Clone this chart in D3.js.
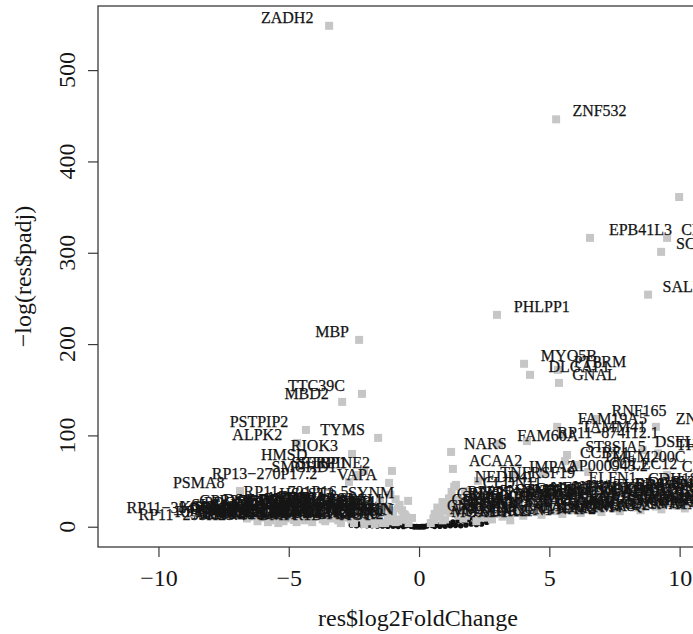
<!DOCTYPE html>
<html>
<head>
<meta charset="utf-8">
<script src="https://cdn.jsdelivr.net/npm/d3@7"></script>
<style>
  body { margin: 0; background: #fff; }
</style>
</head>
<body>
<div id="chart"></div>
<script>
// ---- labelled significant genes (log2 fold change, -log(padj))
const genes = ["ZADH2", "ZNF532", "CNTNAP5", "EPB41L3", "CELF4", "SCN2B", "SALL1", "PHLPP1", "MBP",
  "MYO5B", "PTPRM", "DLGAP1", "GNAL", "TTC39C", "MBD2", "RNF165", "ZNF804A", "FAM19A5", "PSTPIP2",
  "TAMM41", "TYMS", "RP11-874I12.1", "ALPK2", "FAM60A", "DSEL", "NARS", "THSD7B", "RIOK3", "ST8SIA5",
  "CCBE1", "HMSD", "TMEM200C", "ACAA2", "SETBP1", "SERPINE2", "COLEC12", "AP000943.2", "IMPA2", "CHST2",
  "SMCHD1", "TNFRSF19", "RP13-270P17.2", "VAPA", "NEDD4L", "ELFN1", "CDH18", "PSMA8", "CLDN11", "RPP25",
  "RP11-701P16.5", "HS6ST3", "SYNM", "DSG4", "RP11-384F22.1", "RP11-20G6.1", "PCSK1N", "NRXN3", "MOXD1"];
const lfc = [-3.45, 5.26, 9.98, 6.56, 9.52, 9.29, 8.79, 2.99, -2.30,
  4.03, 5.33, 4.26, 5.37, -2.19, -2.95, 6.75, 9.09, 5.30, -4.34,
  5.49, -1.57, 4.14, -4.68, 3.07, 8.58, 1.23, 9.17, -2.57, 5.68,
  5.60, -3.76, 6.10, 1.30, -2.11, -1.04, 6.49, 4.76, 3.68, 9.52,
  -2.42, 2.26, -2.69, -1.15, 1.42, 5.95, 8.21, -6.87, 1.77, 1.34,
  -1.50, -2.61, -0.42, -5.53, -5.99, -4.80, -0.27, 1.04, 0.58];
const nlp = [548.5, 446.1, 361.0, 316.3, 316.3, 301.0, 254.1, 232.0, 204.6,
  178.4, 171.7, 166.3, 157.5, 145.5, 136.7, 118.1, 109.4, 109.4, 106.0,
  100.9, 97.3, 93.8, 91.8, 90.7, 84.1, 81.9, 80.3, 79.7, 78.6,
  71.8, 69.9, 67.8, 63.3, 61.1, 61.1, 59.9, 57.8, 56.7, 56.7,
  56.7, 50.2, 49.1, 48.0, 45.8, 44.7, 43.6, 39.2, 39.2, 29.4,
  29.4, 27.2, 28.3, 20.6, 11.8, 7.4, 9.6, 17.3, 7.4];

// crowded labelled genes near the bottom, left side
const denseLeftGenes = ["KCNJ10", "SLC1A3", "GPR37L1", "AQP4", "SOX9", "GJA1", "NTRK2", "ALDH1L1", "GFAP", "SPARCL1", "CLU",
  "PLPP3", "RFX4", "SLC4A4", "FABP7", "ATP1A2", "MLC1", "PAX6", "NDRG2", "ID4", "CST3", "SPON1", "RP11-81H14.2",
  "EMX2", "LHX2", "ZIC2", "FGFR3", "HES5", "NOTCH1", "SLC39A12", "TTYH1", "METRN", "PTN", "C1orf61",
  "RP11-255H23.4", "ARHGEF26", "PRODH", "GLUL", "BMPR1B", "CPE", "SCRG1", "AGT", "SOX2",
  "OLIG1", "OLIG2", "SOX10", "PDGFRA", "CSPG4", "GPR17", "BCAS1", "MOG", "MAG", "PLP1", "CNP",
  "CLDN14", "ERMN", "ENPP6", "TF", "OPALIN", "KLK6", "CARNS1", "RP11-139K4.2", "ASPA", "TMEM125", "UGT8"];
const denseLeftLfc = [-6.4, -5.9, -5.2, -4.6, -4.0, -3.5, -3.0, -2.4, -1.9, -1.3, -0.8,
  -6.6, -6.0, -5.5, -4.9, -4.3, -3.8, -3.2, -2.7, -2.1, -1.6, -1.1, -0.6,
  -6.2, -5.7, -5.0, -4.5, -3.9, -3.3, -2.8, -2.3, -1.8, -1.2, -0.7,
  -5.4, -4.7, -4.1, -3.6, -3.0, -2.5, -2.0, -1.4, -0.9,
  -6.5, -6.1, -5.6, -5.1, -4.7, -4.2, -3.7, -3.1, -2.6, -2.0, -1.5,
  -1.0, -0.5, -5.8, -5.2, -4.4, -3.7, -3.1, -2.6, -2.1, -1.6, -1.1];
const denseLeftNlp = [13, 15, 19, 21, 22, 23, 22, 23, 21, 22, 20,
  9, 10, 12, 15, 16, 17, 15, 16, 17, 15, 16, 14,
  6, 7, 9, 10, 11, 9, 10, 11, 9, 10, 8,
  4, 5, 5, 6, 4, 5, 6, 4, 5,
  11, 12, 14, 17, 18, 19, 20, 19, 20, 19, 18,
  18, 11, 5, 6, 7, 8, 7, 8, 7, 7, 6];

// crowded labelled genes near the bottom, right side
const denseRightGenes = ["GRIA2", "SYT1", "SNAP25", "STMN2", "GAP43", "NEFL", "NEFM", "INA", "TUBB3", "ELAVL4", "DCX", "SYN1", "RBFOX3",
  "CELF2", "KIF5A", "MAPT", "CHGA", "SCG2", "VGF", "NPTX1", "CALB2", "GABRA1", "GAD1", "GAD2", "SLC32A1", "RELN",
  "CNR1", "SST", "NPY", "VIP", "CCK", "TAC1", "PENK", "CRH", "NRGN", "CAMK2A", "GRIN1", "GRIN2B", "DLG4",
  "SHANK2", "NRXN1", "NLGN1", "CNTNAP2", "CADM2", "LRRTM4", "ATP1A3", "KCNQ2", "CACNA1A", "RP11-12N13.3", "RP5-1052I5.2", "SCN2A", "SCN3B",
  "SV2B", "SLC17A7", "NEUROD6", "SATB2", "TBR1", "BCL11B", "FEZF2", "CUX2", "RORB", "LMO4", "PCP4", "NRN1", "BDNF",
  "ARC", "EGR1", "FOS", "NR4A1", "NPAS4", "HOMER1", "GABRG2", "SYP", "SYNPR", "SNCG", "CHN1", "RP11-5C23.1", "AC011288.2"];
const denseRightLfc = [0.9, 1.6, 2.4, 3.1, 3.9, 4.6, 5.4, 6.1, 6.9, 7.6, 8.4, 9.2, 10.0,
  0.7, 1.4, 2.1, 2.9, 3.6, 4.4, 5.1, 5.9, 6.6, 7.4, 8.1, 8.9, 9.7,
  0.6, 1.2, 1.9, 2.7, 3.4, 4.2, 4.9, 5.7, 6.4, 7.2, 7.9, 8.7, 9.5,
  1.0, 1.7, 2.5, 3.2, 4.0, 4.7, 5.5, 6.2, 7.0, 7.7, 8.5, 9.3, 10.2,
  1.2, 2.0, 2.8, 3.5, 4.3, 5.0, 5.8, 6.5, 7.3, 8.0, 8.8, 9.6, 10.3,
  0.8, 1.5, 2.3, 3.0, 3.8, 4.5, 5.3, 6.0, 6.8, 7.5, 8.3, 9.1, 9.9];
const denseRightNlp = [27, 28, 30, 31, 33, 34, 35, 36, 37, 38, 39, 40, 40,
  21, 22, 23, 24, 26, 27, 28, 29, 30, 31, 32, 33, 34,
  14, 15, 16, 17, 18, 19, 20, 21, 22, 23, 24, 25, 26,
  8, 9, 10, 11, 12, 13, 14, 15, 16, 17, 18, 19, 20,
  24, 26, 27, 29, 30, 31, 33, 34, 34, 36, 37, 37, 38,
  11, 12, 13, 14, 15, 16, 17, 18, 19, 20, 21, 22, 23];

// significant genes without labels (small fold change)
const greyLfc = [-0.4, -0.5, -0.55, -0.65, -0.75, -0.9, -1.1, -0.8, -1.0, -1.3, -1.7, -2.1, -2.5,
  0.45, 0.55, 0.7, 0.85, 1.0, 1.15, 1.25, 1.35, 0.9, 1.5, 1.8, 2.2, 2.8, 3.5];
const greyNlp = [4, 8, 13, 18, 24, 30, 35, 6, 12, 4, 3, 3, 4,
  4, 9, 14, 19, 25, 31, 38, 44, 7, 20, 12, 6, 8, 7];

// non significant genes
const nsLfc = [-2.6, -2.3, -2.1, -2.0, -1.9, -1.7, -1.6, -1.5, -1.3, -1.1, -1.0, -0.9, -0.7, -0.5, -0.4, -0.3, -0.1, 0,
  0.1, 0.3, 0.4, 0.5, 0.7, 0.9, 1.0, 1.1, 1.3, 1.5, 1.6, 1.7, 1.9, 2.0, 2.1, 2.3, 2.6,
  -2.4, -2.2, -1.8, -1.4, -1.2, -0.8, -0.6, -0.2, 0.2, 0.6, 0.8, 1.2, 1.4, 1.8, 2.2, 2.4, -0.05, 0.05, 0.15, -0.15];
const nsNlp = [2, 3, 4, 1, 2, 5, 0.8, 3, 2, 4, 0.5, 1.5, 2.5, 1, 2, 0.6, 0.2, 0,
  0.3, 0.8, 3, 1.5, 2.2, 3, 0.5, 4, 5, 6.5, 1, 7, 8, 3, 9, 10, 5,
  1, 1.5, 1, 0.8, 0.6, 0.4, 0.3, 0.1, 0.1, 0.4, 0.6, 1, 1.5, 2, 2.5, 3, 0, 0.05, 0.1, 0.05];

const xTicks = [-10, -5, 0, 5, 10];
const yTicks = [0, 100, 200, 300, 400, 500];

const width = 693, height = 634;
const box = { left: 98, right: 738, top: 6, bottom: 547 };
const fontFamily = "'Liberation Serif', 'Times New Roman', serif";
const textColor = "#151515";
const axisColor = "#3a3a3a";
const greyColor = "#c6c6c6";

const x = d3.scaleLinear().domain([-12.32, 12.24]).range([box.left, box.right]);
const y = d3.scaleLinear().domain([-22.2, 570.2]).range([box.bottom, box.top]);

const svg = d3.select("#chart")
  .append("svg")
  .attr("width", width)
  .attr("height", height)
  .style("font-family", fontFamily);

// non significant genes as small black dots
svg.append("g")
  .selectAll("circle")
  .data(d3.range(nsLfc.length))
  .join("circle")
  .attr("cx", i => x(nsLfc[i]))
  .attr("cy", i => y(nsNlp[i]))
  .attr("r", 2.8)
  .attr("fill", "#111");

// all significant genes as grey squares
const sq = 8;
const allLfc = greyLfc.concat(lfc, denseLeftLfc, denseRightLfc);
const allNlp = greyNlp.concat(nlp, denseLeftNlp, denseRightNlp);
svg.append("g")
  .selectAll("rect")
  .data(d3.range(allLfc.length))
  .join("rect")
  .attr("x", i => x(allLfc[i]) - sq / 2)
  .attr("y", i => y(allNlp[i]) - sq / 2)
  .attr("width", sq)
  .attr("height", sq)
  .attr("fill", greyColor);

// labels, textxy style: pushed away from the point by 0.3 of their width
const labGenes = genes.concat(denseLeftGenes, denseRightGenes);
const labLfc = lfc.concat(denseLeftLfc, denseRightLfc);
const labNlp = nlp.concat(denseLeftNlp, denseRightNlp);
svg.append("g")
  .selectAll("text")
  .data(d3.range(labGenes.length))
  .join("text")
  .text(i => labGenes[i].replace("-", "\u2212"))
  .attr("y", i => y(labNlp[i]) - 3)
  .attr("font-size", 16)
  .attr("fill", textColor)
  .attr("stroke", textColor)
  .attr("stroke-width", 0.25)
  .attr("text-anchor", i => labLfc[i] >= 0 ? "start" : "end")
  .each(function (i) {
    const w = this.getComputedTextLength();
    const px = x(labLfc[i]);
    d3.select(this).attr("x", labLfc[i] >= 0 ? px + 0.3 * w : px - 0.3 * w);
  });

// plot box
svg.append("rect")
  .attr("x", box.left)
  .attr("y", box.top)
  .attr("width", box.right - box.left)
  .attr("height", box.bottom - box.top)
  .attr("fill", "none")
  .attr("stroke", axisColor)
  .attr("stroke-width", 1.3);

// x axis
const xAxis = svg.append("g")
  .attr("transform", `translate(0,${box.bottom})`)
  .call(d3.axisBottom(x).tickValues(xTicks).tickSize(10).tickPadding(12));
xAxis.select(".domain").remove();
xAxis.selectAll("line").attr("stroke", axisColor).attr("stroke-width", 1.2);
xAxis.selectAll("text")
  .attr("fill", textColor)
  .style("font-family", fontFamily)
  .style("font-size", "24px");

// y axis, labels rotated like base R
const yAxis = svg.append("g")
  .attr("transform", `translate(${box.left},0)`)
  .call(d3.axisLeft(y).tickValues(yTicks).tickSize(10).tickFormat(""));
yAxis.select(".domain").remove();
yAxis.selectAll("line").attr("stroke", axisColor).attr("stroke-width", 1.2);

svg.append("g")
  .selectAll("text")
  .data(yTicks)
  .join("text")
  .attr("transform", d => `translate(75,${y(d)}) rotate(-90)`)
  .attr("text-anchor", "middle")
  .attr("font-size", 24)
  .attr("fill", textColor)
  .text(d => d);

// axis titles
svg.append("text")
  .attr("x", (box.left + box.right) / 2)
  .attr("y", 626)
  .attr("text-anchor", "middle")
  .attr("font-size", 24)
  .attr("fill", textColor)
  .text("res$log2FoldChange");

svg.append("text")
  .attr("transform", `translate(31,${(box.top + box.bottom) / 2}) rotate(-90)`)
  .attr("text-anchor", "middle")
  .attr("font-size", 24)
  .attr("fill", textColor)
  .text("\u2212log(res$padj)");
</script>
</body>
</html>
